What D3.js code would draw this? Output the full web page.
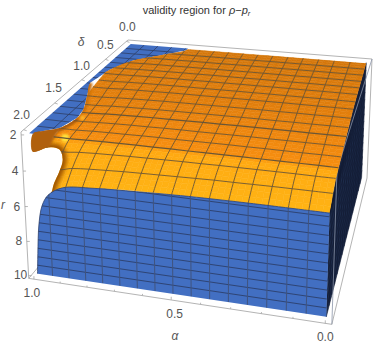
<!DOCTYPE html>
<html><head><meta charset="utf-8">
<script src="https://cdn.jsdelivr.net/npm/d3@7"></script>
<style>html,body{margin:0;padding:0;background:#fff}svg{display:block}text{font-family:"Liberation Sans Narrow","Liberation Sans",Arial,sans-serif}</style>
</head><body><svg id="c" width="374" height="346"></svg>
<script>
const alphaMesh=d3.range(0,17).map(j=>j/16);
const deltaMesh=d3.range(0,17).map(i=>i/8);
const rMesh=[2,2.5,3,3.5,4,4.5,5,5.5,6,6.5,7,7.5,8,8.5,9,9.5,10];
const surfaceR=[
[2.05,2.05,2.05,2.05,2.05,2.05,2.05,2.06,2.06,2.06,2.06,2.06,2.07,2.07,2.07,2.08,2.08],
[2.10,2.10,2.10,2.10,2.10,2.10,2.10,2.11,2.11,2.11,2.11,2.12,2.12,2.12,2.13,2.14,2.14],
[2.15,2.15,2.15,2.15,2.15,2.16,2.16,2.16,2.16,2.17,2.17,2.17,2.18,2.18,2.19,2.20,2.20],
[2.20,2.20,2.20,2.20,2.21,2.21,2.21,2.21,2.22,2.22,2.23,2.23,2.24,2.24,2.25,2.27,2.27],
[2.25,2.25,2.25,2.25,2.26,2.26,2.26,2.27,2.27,2.27,2.28,2.28,2.29,2.30,2.31,2.33,2.33],
[2.30,2.30,2.30,2.31,2.31,2.31,2.32,2.32,2.33,2.33,2.34,2.34,2.35,2.36,2.38,2.40,2.40],
[2.38,2.38,2.38,2.39,2.39,2.39,2.40,2.40,2.41,2.42,2.42,2.43,2.44,2.45,2.47,2.50,2.50],
[2.45,2.45,2.46,2.46,2.46,2.47,2.47,2.48,2.49,2.50,2.50,2.51,2.53,2.54,2.56,2.60,2.60],
[2.60,2.60,2.61,2.61,2.62,2.62,2.63,2.64,2.65,2.66,2.67,2.68,2.70,2.72,2.75,2.80,2.80],
[2.75,2.75,2.76,2.76,2.77,2.77,2.78,2.79,2.80,2.81,2.82,2.83,2.85,2.87,2.90,2.95,2.95],
[2.85,2.85,2.86,2.86,2.87,2.87,2.88,2.89,2.90,2.91,2.92,2.93,2.95,2.97,3.00,3.05,3.05],
[3.00,3.00,3.01,3.01,3.02,3.02,3.03,3.04,3.05,3.05,3.06,3.08,3.09,3.11,3.14,3.18,3.18],
[3.15,3.15,3.16,3.16,3.16,3.17,3.17,3.18,3.19,3.20,3.20,3.21,3.23,3.24,3.26,3.30,3.30],
[3.30,3.30,3.30,3.31,3.31,3.31,3.32,3.32,3.33,3.33,3.34,3.34,3.35,3.36,3.38,3.40,3.40],
[3.42,3.43,3.43,3.44,3.45,3.46,3.47,3.49,3.50,3.52,3.54,3.56,3.59,3.62,3.67,3.75,3.60],
[3.75,3.76,3.77,3.78,3.80,3.82,3.83,3.86,3.89,3.92,3.95,3.98,4.03,4.08,4.16,4.30,3.40],
[4.30,4.30,4.31,4.32,4.33,4.34,4.35,4.37,4.40,4.43,4.46,4.51,4.58,4.68,4.85,5.40,5.9]
];
const frontAlpha=[0,0.25,0.47,0.62,0.77,0.885,0.94,0.965,0.98,0.99,0.995];
const frontR=[4.3,4.33,4.4,4.5,4.62,4.82,5.34,6.0,7.07,8.8,10];
const contourAlpha=[0.74,0.829,0.915,0.967,0.987,0.945,0.905,0.896,0.917,0.962,0.986];
const contourDelta=[0.05,0.233,0.41,0.667,0.99,1.25,1.51,1.665,1.86,1.94,2];
const notchAlpha=[0.99,0.93,0.89,0.88,0.895,0.915,0.93];
const notchR=[3.0,2.65,2.7,3.25,3.95,4.6,5.25];
const glowAlpha=[0.955,0.93];
const glowDelta=[1.625,1.42];
const glowR=[3.4,2.8];
const titleText="validity region for ";
const deltaTicks=[0,0.5,1,1.5,2], rTicks=[2,4,6,8,10], alphaTicks=[1,0.5,0];

const U=d3.scaleLinear().domain([-0.02,1.02]).range([0,1]);
const V=d3.scaleLinear().domain([-0.04,2.04]).range([0,1]);
const W=d3.scaleLinear().domain([1.84,10.16]).range([0,1]);
const O=[372,59],A=[128,40],B=[337,170],C=[367,178],wa=1.0986,wb=.7387,wc=1.034;
function P(a,d,r){const s=U(a),t=V(d),w=W(r);
  const h=k=>O[k]+s*(wa*A[k]-O[k])+t*(wb*B[k]-O[k])+w*(wc*C[k]-O[k]);
  const D=1+s*(wa-1)+t*(wb-1)+w*(wc-1);
  const q=[h(0)/D,h(1)/D];
  q[1]+=s*w*8;return q;}
const svg=d3.select("#c");
const line=d3.line();
const smooth=d3.line().curve(d3.curveCatmullRom);
const poly=pts=>line(pts)+"Z";
const boxCol="#b4b4b4";
function edge(p,q,col,wd){svg.append("path").attr("d",line([P(...p),P(...q)])).attr("stroke",col||boxCol).attr("stroke-width",wd||1).attr("fill","none");}
const a0=-.02,a1=1.02,d0=-.04,d1=2.04,r0=1.84,r1=10.16;
const defs=svg.append("defs");
[["b2",2.2],["b4",3.5],["b1",1.1]].forEach(([id,s])=>defs.append("filter").attr("id",id).attr("x","-50%").attr("y","-50%").attr("width","200%").attr("height","200%").append("feGaussianBlur").attr("stdDeviation",s));
// back box
edge([a0,d0,r0],[a1,d0,r0]);edge([a1,d0,r0],[a1,d1,r0]);edge([a0,d0,r0],[a0,d0,r1]);edge([a0,d0,r1],[a0,d1,r1]);edge([a0,d1,r1],[a1,d1,r1]);edge([a1,d1,r1],[a1,d1,r0]);edge([a1,d1,r1],[a1,d0,r1]);

// blue plane
const blue="#426fc2";
const bluePts=[P(1,0,2),P(contourAlpha[0],0,2)].concat(contourAlpha.map((a,i)=>P(a,contourDelta[i],2))).concat([P(1,2,2)]);
svg.append("path").attr("d",poly(bluePts)).attr("fill",blue);
defs.append("clipPath").attr("id","bl").append("path").attr("d",poly(bluePts));
const gb=svg.append("g").attr("clip-path","url(#bl)").attr("fill","none").attr("stroke","#2f3f66").attr("stroke-width",.8);
deltaMesh.slice(1,-1).forEach(d=>gb.append("path").attr("d",line([P(0.6,d,2),P(1,d,2)])));
alphaMesh.slice(8,-1).forEach(a=>gb.append("path").attr("d",line([P(a,0,2),P(a,2,2)])));

// navy side
const navy="#1d2b4a";
const sideTop=deltaMesh.map((d,i)=>P(0,d,surfaceR[i][0]));
svg.append("path").attr("d",poly(sideTop.concat([P(0,2,10),P(0,0,10)]))).attr("fill",navy);
const gs=svg.append("g").attr("fill","none").attr("stroke","#101a30").attr("stroke-width",.6);
deltaMesh.forEach((d,i)=>gs.append("path").attr("d",line([P(0,d,surfaceR[i][0]),P(0,d,10)])));
rMesh.forEach(r=>gs.append("path").attr("d",line([P(0,0,r),P(0,2,Math.max(r,4.3))])));
edge([a0,d0,r0],[a0,d1,r0],"#8a94a8",.8);
edge([a0,d1,r0],[a0,d1,r1],"#8a94a8",.8);

// orange silhouette
const contourPts=contourAlpha.map((a,i)=>P(a,contourDelta[i],2));
const notchPts=notchAlpha.map((a,i)=>P(a,2,notchR[i]));
const frontRev=frontAlpha.slice(0,7).map((a,k)=>P(a,2,frontR[k])).reverse();
const outline=[P(0,0,surfaceR[0][0]),P(contourAlpha[0],0,2)].concat(contourPts,notchPts,frontRev);
defs.append("clipPath").attr("id","or").append("path").attr("d",smooth(outline.slice(1,-6))+"L"+outline.slice(-6).join("L")+"L"+outline[0]+"Z");
const go=svg.append("g").attr("clip-path","url(#or)");
const col=d3.scaleLinear().domain([0,.45,.62,.8,.82,1]).range(["#d5780c","#e27f0d","#ec860f","#f78e10","#ffa912","#ffb414"]);
const sub=3;
function sf(i,j,x,y){
  const a=surfaceR[i],b=surfaceR[Math.min(i+1,16)];
  const p=a[j],q=a[Math.min(j+1,16)],u=b[j],v=b[Math.min(j+1,16)];
  return (p*(1-x)+q*x)*(1-y)+(u*(1-x)+v*x)*y;}
for(let i=0;i<16;i++)for(let j=0;j<16;j++)for(let m=0;m<sub;m++)for(let n=0;n<sub;n++){
  const x=n/sub,y=m/sub,e=1/sub,aa=(j+x)/16,dd=(i+y)/8,ae=(j+x+e)/16,de=(i+y+e)/8;
  const q=[P(aa,dd,sf(i,j,x,y)),P(ae,dd,sf(i,j,x+e,y)),P(ae,de,sf(i,j,x+e,y+e)),P(aa,de,sf(i,j,x,y+e))];
  const c=col((i+y)/16);
  go.append("path").attr("d",poly(q)).attr("fill",c).attr("stroke",c).attr("stroke-width",.5);
}
// soft shading of the folded corner
go.append("path").attr("d",smooth(notchPts)).attr("fill","none").attr("stroke","#9c5206").attr("stroke-width",8).attr("filter","url(#b2)");
go.append("path").attr("d",smooth(contourPts.slice(7))).attr("fill","none").attr("stroke","#a85a07").attr("stroke-width",6).attr("filter","url(#b1)");
go.append("path").attr("d",poly([P(1,2,2),P(1,2,3.2),P(.93,2,2.7),P(.917,1.86,2)])).attr("fill","#b0600a").attr("filter","url(#b1)");
go.append("path").attr("d",smooth(contourPts.slice(4,8))).attr("fill","none").attr("stroke","#c97008").attr("stroke-width",5).attr("filter","url(#b1)");
glowAlpha.forEach((a,i)=>{const p=P(a,glowDelta[i],glowR[i]);go.append("circle").attr("cx",p[0]).attr("cy",p[1]).attr("r",i==0?4:2.5).attr("fill",i==0?"#ffe23c":"#ffb428").attr("filter","url(#b1)");});

const gm=go.append("g").attr("fill","none").attr("stroke","#6b5636").attr("stroke-width",.9);
deltaMesh.forEach((d,i)=>{if(i==0||i==16)return;gm.append("path").attr("d",smooth(alphaMesh.map((a,j)=>P(a,d,surfaceR[i][j])))).attr("stroke-width",i==10||i==13?1.2:.9);});
alphaMesh.forEach((a,j)=>{if(j==0||j==16)return;gm.append("path").attr("d",smooth(deltaMesh.map((d,i)=>P(a,d,surfaceR[i][j]))));});

// front blue
const frontTop=frontAlpha.map((a,i)=>P(a,2,frontR[i]));
const frontD=smooth(frontTop)+"L"+P(1,2,10)+"L"+P(0,2,10)+"Z";
svg.append("path").attr("d",frontD).attr("fill",blue);
defs.append("clipPath").attr("id","fr").append("path").attr("d",frontD);
const gf=svg.append("g").attr("clip-path","url(#fr)").attr("fill","none");
rMesh.slice(5,-1).forEach(r=>gf.append("path").attr("d",line([P(0,2,r),P(1,2,r)])).attr("stroke","#2c3f6b").attr("stroke-width",.9));
alphaMesh.slice(1,-1).forEach(a=>gf.append("path").attr("d",line([P(a,2,4),P(a,2,10)])).attr("stroke","#40547f").attr("stroke-width",1));
svg.append("path").attr("d",smooth(frontTop)).attr("fill","none").attr("stroke","#2c3f6b").attr("stroke-width",.8);

// ticks
const tk="#9a9a9a";
d3.range(0,1.01,.1).forEach(a=>{const p=P(a,d1,r1);svg.append("path").attr("d",line([p,[p[0],p[1]-(Math.round(a*10)%5==0?3:1.5)]])).attr("stroke",tk).attr("stroke-width",.7);});
d3.range(0,2.01,.5).forEach(d=>{const p=P(a1,d,r0);svg.append("path").attr("d",line([p,[p[0]+3,p[1]+1]])).attr("stroke",tk).attr("stroke-width",.7);});
rTicks.forEach(r=>{const p=P(a1,d1,r);svg.append("path").attr("d",line([p,[p[0]+3,p[1]]])).attr("stroke",tk).attr("stroke-width",.7);});
// labels
const lab="#555";
function txt(x,y,s,o={}){return svg.append("text").attr("x",x).attr("y",y).attr("text-anchor",o.anchor||"middle").attr("font-size",o.size||12).attr("fill",o.fill||lab).attr("font-style",o.italic?"italic":null).text(s);}
const dOff=[[1,-10],[0,-10],[0,-10],[-1,-11],[-2,-10.5]];
deltaTicks.forEach((d,i)=>{const p=P(1.02,d,1.84);txt(p[0]+dOff[i][0],p[1]+dOff[i][1],d.toFixed(1));});
rTicks.forEach((r,i)=>{const p=P(1.02,2.04,r);txt(p[0]-8,p[1]+4-(i==4?1:0),String(r));});
const aOff=[-2,3.5,0];
alphaTicks.forEach((a,i)=>{const p=P(a,2.04,10.16);txt(p[0]+aOff[i],p[1]+18,a.toFixed(1));});
txt(81,46,"δ",{italic:true});
txt(175,340,"α",{italic:true});
txt(1,209,"r",{italic:true,anchor:"start"});
const t=svg.append("text").attr("x",196.5).attr("y",14).attr("text-anchor","middle").attr("font-size",11).attr("fill","#333");
t.append("tspan").text(titleText);
t.append("tspan").attr("font-style","italic").text("ρ");
t.append("tspan").text("−");
t.append("tspan").attr("font-style","italic").text("p");
t.append("tspan").attr("font-style","italic").attr("font-size",7.5).attr("dy",2).text("r");
</script></body></html>
